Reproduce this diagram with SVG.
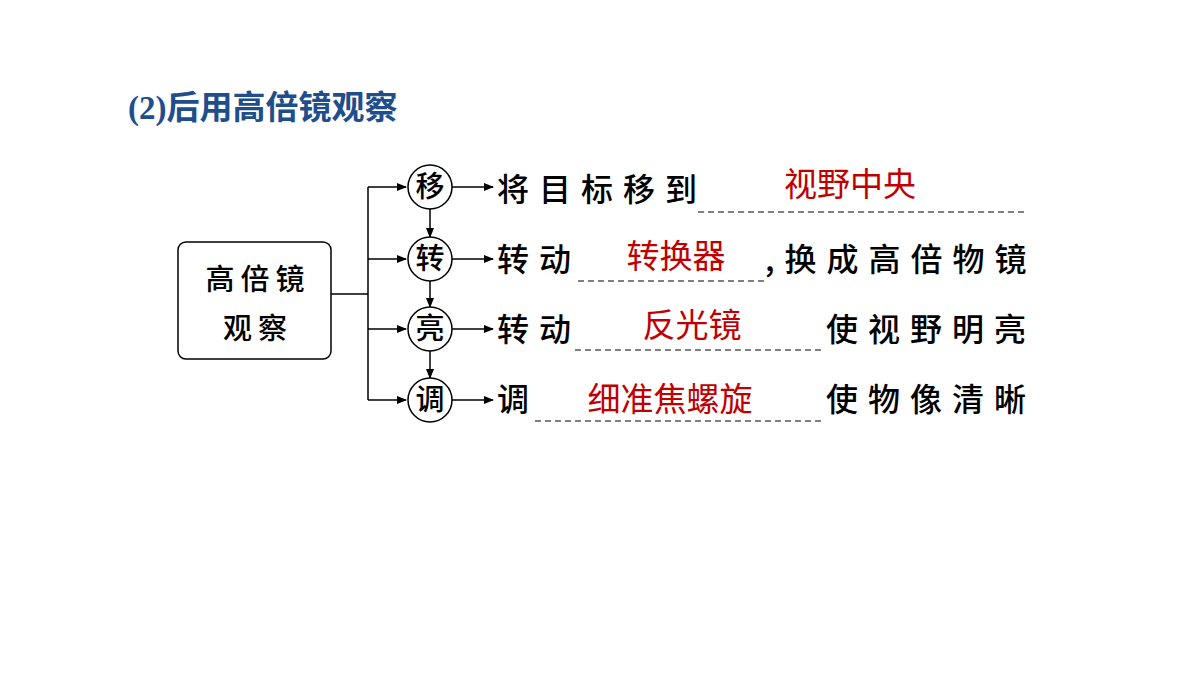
<svg xmlns="http://www.w3.org/2000/svg" width="1200" height="675" viewBox="0 0 1200 675">
<style>
.t{font-family:"Noto Sans CJK SC",sans-serif;font-size:32px;fill:#000;letter-spacing:10px;font-weight:500}
.r{font-family:"Noto Sans CJK SC",sans-serif;font-size:33px;fill:#C00000}
.c{font-family:"Noto Sans CJK SC",sans-serif;font-size:29px;fill:#000;text-anchor:middle;font-weight:500}
.l{stroke:#000;stroke-width:1.5;fill:none}
.d{stroke:#000;stroke-width:1.2;stroke-dasharray:6,4}
</style>
<defs><marker id="a" markerWidth="10" markerHeight="8" refX="9" refY="4" orient="auto" markerUnits="userSpaceOnUse"><path d="M0,0L10,4L0,8z" fill="#000"/></marker></defs>
<text x="128" y="119" font-family="Liberation Serif,Noto Sans CJK SC,serif" font-weight="bold" font-size="33" fill="#1F4E8C">(2)<tspan font-family="Noto Sans CJK SC,sans-serif">后用高倍镜观察</tspan></text>
<g id="box"><rect x="178" y="242" width="153" height="117" rx="8" fill="#fff" stroke="#000" stroke-width="1.5"/>
<text class="c" x="258" y="290" font-size="33" letter-spacing="6">高倍镜</text><text class="c" x="258" y="339" font-size="33" letter-spacing="6">观察</text></g>
<g id="connectors">
<path class="l" d="M331,294H368M368,187V400"/>
<path class="l" d="M368,187H406" marker-end="url(#a)"/>
<path class="l" d="M368,259H406" marker-end="url(#a)"/>
<path class="l" d="M368,329H406" marker-end="url(#a)"/>
<path class="l" d="M368,400H406" marker-end="url(#a)"/>
<path class="l" d="M430,209V237" marker-end="url(#a)"/>
<path class="l" d="M430,281V307" marker-end="url(#a)"/>
<path class="l" d="M430,351V378" marker-end="url(#a)"/>
<path class="l" d="M452,187H493" marker-end="url(#a)"/>
<path class="l" d="M452,259H493" marker-end="url(#a)"/>
<path class="l" d="M452,329H493" marker-end="url(#a)"/>
<path class="l" d="M452,400H493" marker-end="url(#a)"/>
</g>
<g id="n1"><circle cx="430" cy="187" r="22" fill="#fff" stroke="#000" stroke-width="1.5"/><text class="c" x="430" y="197">移</text></g>
<g id="n2"><circle cx="430" cy="259" r="22" fill="#fff" stroke="#000" stroke-width="1.5"/><text class="c" x="430" y="269">转</text></g>
<g id="n3"><circle cx="430" cy="329" r="22" fill="#fff" stroke="#000" stroke-width="1.5"/><text class="c" x="430" y="339">亮</text></g>
<g id="n4"><circle cx="430" cy="400" r="22" fill="#fff" stroke="#000" stroke-width="1.5"/><text class="c" x="430" y="410">调</text></g>
<g id="row1"><text class="t" x="497" y="201">将目标移到</text><line class="d" x1="698" y1="212" x2="1028" y2="212"/><text class="r" x="850" y="196" text-anchor="middle">视野中央</text></g>
<g id="row2"><text class="t" x="497" y="271">转动</text><line class="d" x1="578" y1="281" x2="765" y2="281"/><text class="r" x="676" y="268" text-anchor="middle">转换器</text><text class="t" x="765" y="271" letter-spacing="9">,换成高倍物镜</text></g>
<g id="row3"><text class="t" x="497" y="341">转动</text><line class="d" x1="575" y1="350" x2="822" y2="350"/><text class="r" x="692" y="337" text-anchor="middle">反光镜</text><text class="t" x="826" y="341" letter-spacing="11">使视野明亮</text></g>
<g id="row4"><text class="t" x="497" y="411">调</text><line class="d" x1="535" y1="421" x2="822" y2="421"/><text class="r" x="670" y="411" text-anchor="middle">细准焦螺旋</text><text class="t" x="826" y="411" letter-spacing="11">使物像清晰</text></g>
</svg>
